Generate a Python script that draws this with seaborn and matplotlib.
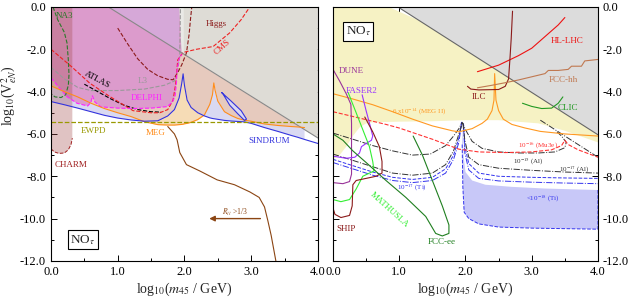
import numpy as np
import matplotlib
matplotlib.use('Agg')
import matplotlib.pyplot as plt
from matplotlib.ticker import MultipleLocator, FormatStrFormatter
import seaborn as sns

# ---------------- left panel (current bounds) ----------------
grid_x = [0, 0.2, 0.4, 0.6, 0.8, 1.0, 1.2, 1.4, 1.6, 1.75, 1.85, 1.92, 1.96, 1.98, 2.0, 2.04,
          2.1, 2.2, 2.3, 2.38, 2.42, 2.44, 2.46, 2.5, 2.6, 2.7, 2.8, 2.9, 3.0, 3.2, 3.4, 3.6,
          3.7, 3.8, 4.0]
sindrum_y = [-4.47, -4.62, -4.78, -4.95, -5.12, -5.25, -5.34, -5.4, -5.38, -5.15, -4.85, -4.3,
             -3.6, -3.16, -3.7, -4.4, -4.75, -5.0, -5.15, -5.24, -5.27, -5.28, -5.29, -5.31,
             -5.36, -5.39, -5.41, -5.43, -5.5, -5.7, -5.88, -6.07, -6.16, -6.26, -6.45]
meg_y = [-3.73, -4.0, -4.25, -4.55, -4.8, -5.0, -5.18, -5.42, -5.56, -5.58, -5.58, -5.56, -5.55,
         -5.54, -5.52, -5.5, -5.45, -5.32, -5.1, -4.6, -4.15, -3.59, -3.95, -4.45, -4.95, -5.13,
         -5.27, -5.35, -5.4, -5.53, -5.6, -5.65, -5.67, -5.7]

sindrum_loop_x = [2.56, 2.7, 2.85, 2.93, 2.9, 2.8, 2.68, 2.58, 2.56]
sindrum_loop_y = [-4.05, -4.45, -4.9, -5.3, -5.36, -5.05, -4.65, -4.12, -4.05]

diagL_x = [0.86, 4.0]
diagL_y = [0.0, -6.19]

delphi_x = [0, 0.12, 0.24, 0.39, 0.55, 0.6, 0.62, 0.66, 0.75, 1.0, 1.23, 1.5, 1.74, 1.82,
            1.86, 1.88, 1.89, 1.92, 1.96]
delphi_y = [-3.35, -3.8, -4.24, -4.55, -4.68, -4.5, -4.2, -4.5, -4.72, -4.78, -4.8, -4.78,
            -4.71, -4.5, -4.2, -3.6, -3.0, -2.45, -2.25]

l3_x = [0, 0.2, 0.4, 0.6, 1.0, 1.4, 1.7, 1.85, 1.9, 1.93, 1.94]
l3_y = [-2.85, -3.4, -3.8, -3.95, -3.95, -3.88, -3.7, -3.5, -3.0, -2.3, 0.0]

cms_x = [0, 0.3, 0.58, 0.88, 1.23, 1.5, 1.63, 1.75, 1.83, 1.87, 1.9, 1.98, 2.18, 2.43, 2.68,
         2.85, 2.98]
cms_y = [-2.0, -2.8, -3.6, -4.23, -4.9, -5.0, -5.0, -4.85, -4.4, -3.6, -2.5, -2.15, -2.0,
         -1.87, -1.22, -0.6, 0.0]

atlas_x = [0.5, 0.7, 0.9, 1.1, 1.3, 1.5, 1.65]
atlas_y = [-3.65, -4.0, -4.35, -4.65, -4.85, -4.95, -4.97]

higgs_x = [1.0, 1.15, 1.3, 1.45, 1.6, 1.75, 1.83, 1.9, 1.96, 2.03, 2.07, 2.09, 2.11]
higgs_y = [-1.0, -1.75, -2.45, -2.95, -3.25, -3.42, -3.44, -3.1, -2.73, -2.17, -1.3, -0.6, 0.0]

na3_x = [0.03, 0.1, 0.2, 0.24, 0.26, 0.27, 0.26, 0.22, 0.15, 0.06, 0.0]
na3_y = [0.0, -0.6, -1.2, -1.7, -2.5, -3.2, -3.7, -4.15, -4.28, -4.25, -4.1]

charm_x = [0, 0, 0.05, 0.12, 0.2, 0.26, 0.3, 0.32, 0.32]
charm_y = [0, -6.7, -6.85, -6.92, -6.9, -6.75, -6.5, -6.2, 0]

ewpd_level = -5.44

rll_x = [1.75, 1.85, 1.89, 1.93, 2.03, 2.23, 2.49, 2.75, 2.98, 3.12, 3.2, 3.25, 3.3, 3.37]
rll_y = [-5.65, -6.0, -6.28, -6.88, -7.45, -7.75, -8.17, -8.4, -8.74, -9.0, -9.45, -10.1, -10.8, -12.0]
rll_arrow_x = [3.18, 2.33]
rll_arrow_y = -10.0

# ---------------- right panel (future sensitivities) ----------------
diagR_x = [0.98, 4.0]
diagR_y = [0.0, -6.04]

yellow_x = [0, 0.84, 1.3, 4.0, 4.0, 3.5, 3.1, 2.5, 2.0, 1.5, 1.0, 0.6, 0.5, 0.4, 0.3, 0.2, 0.1, 0]
yellow_y = [0, 0, -0.64, -6.04, -6.4, -5.85, -5.5, -5.35, -5.35, -5.4, -5.42, -5.45, -5.5, -5.7,
            -6.1, -6.6, -7.0, -7.2]

ti_band_x = [1.95, 1.97, 2.0, 2.1, 2.3, 2.7, 3.2, 4.0, 4.0, 3.0, 2.5, 2.2, 2.05, 1.98, 1.96, 1.95]
ti_band_y = [-5.45, -7.0, -7.8, -8.2, -8.4, -8.5, -8.58, -8.65, -10.5, -10.45, -10.4, -10.25,
             -10.0, -9.7, -8.5, -6.5]

hllhc_x = [2.18, 2.5, 2.8, 3.0, 3.2, 3.4, 3.5]
hllhc_y = [-3.06, -2.75, -2.3, -1.95, -1.4, -0.85, -0.5]

ilc_x = [2.03, 2.08, 2.2, 2.5, 2.6, 2.65, 2.67, 2.69, 2.71]
ilc_y = [-3.75, -3.88, -3.92, -3.9, -3.75, -3.4, -2.5, -1.5, -0.2]

fcchh_x = [2.18, 2.4, 2.6, 2.8, 3.0, 3.2, 3.25, 3.4, 3.55, 3.6, 3.75, 3.8, 4.0]
fcchh_y = [-3.82, -3.7, -3.58, -3.45, -3.3, -3.15, -3.0, -3.0, -2.95, -2.8, -2.8, -2.55, -2.48]

clic_x = [2.86, 3.0, 3.15, 3.3, 3.4, 3.47]
clic_y = [-4.55, -4.7, -4.8, -4.78, -4.55, -4.25]

megII_x = [0, 0.3, 0.6, 0.9, 1.2, 1.5, 1.8, 1.9, 2.1, 2.25, 2.33, 2.4, 2.43, 2.44, 2.46, 2.5,
           2.57, 2.7, 2.9, 3.13, 3.5, 4.0]
megII_y = [-4.1, -4.35, -4.62, -4.95, -5.3, -5.62, -5.85, -5.9, -5.75, -5.5, -5.3, -4.9, -4.4,
           -3.15, -4.4, -4.9, -5.3, -5.55, -5.72, -5.88, -6.0, -6.1]

mu3e_x = [0, 0.4, 0.8, 1.0, 1.5, 1.9, 2.2, 2.6, 3.0, 3.3, 3.45, 3.5, 3.55, 3.7, 4.0]
mu3e_y = [-4.95, -5.25, -5.55, -5.72, -6.25, -6.72, -6.85, -6.88, -6.85, -6.75, -6.55, -6.3,
          -6.5, -6.75, -7.1]

al15_x = [0, 0.3, 0.6, 0.9, 1.2, 1.47, 1.7, 1.82, 1.9, 1.95, 2.0, 2.1, 2.25, 2.5, 2.8, 3.1,
          3.35, 3.5, 3.52, 3.45, 3.38]
al15_y = [-5.96, -6.25, -6.55, -6.8, -7.0, -6.95, -6.55, -6.1, -5.75, -5.45, -5.8, -6.35,
          -6.68, -6.85, -6.9, -6.9, -6.85, -6.65, -6.4, -6.1, -5.9]
al17_x = [0, 0.3, 0.6, 0.9, 1.2, 1.5, 1.7, 1.82, 1.9, 1.96, 1.99, 2.05, 2.2, 2.5, 3.0, 3.5, 4.0]
al17_y = [-6.95, -7.25, -7.55, -7.85, -7.95, -7.85, -7.45, -6.8, -6.0, -5.45, -6.3, -7.1,
          -7.45, -7.62, -7.72, -7.8, -7.85]
al17_edge_x = [3.13, 3.5, 3.8, 4.0]
al17_edge_y = [-5.35, -6.1, -6.7, -7.1]

ti_x = [0, 0.3, 0.6, 0.9, 1.2, 1.5, 1.7, 1.82, 1.9, 1.94, 1.97, 1.99, 2.05, 2.2, 2.5, 3.0, 3.5, 4.0]
ti_a_y = [-7.2, -7.5, -7.8, -8.05, -8.15, -8.05, -7.65, -7.0, -6.2, -5.45, -5.5, -6.6, -7.4,
          -7.85, -8.0, -8.05, -8.08, -8.1]
ti_b_y = [-7.35, -7.65, -7.95, -8.2, -8.3, -8.2, -7.85, -7.2, -6.4, -5.5, -5.6, -6.9, -7.7,
          -8.1, -8.22, -8.28, -8.32, -8.35]

dune_x = [0, 0.1, 0.2, 0.27, 0.28, 0.28, 0.28, 0.25, 0.15, 0]
dune_y = [-2.95, -3.5, -4.1, -4.6, -5.5, -7.0, -7.9, -8.25, -8.35, -8.3]

faser_x = [0.44, 0.5, 0.56, 0.6, 0.58, 0.5, 0.43, 0.4, 0.33, 0.2, 0.1, 0]
faser_y = [-4.15, -4.9, -5.6, -6.1, -6.3, -6.45, -6.6, -6.9, -7.1, -7.15, -7.1, -7.05]

mathusla_x = [0.23, 0.35, 0.45, 0.55, 0.6, 0.62, 0.55, 0.45, 0.35, 0.25, 0.12, 0]
mathusla_y = [-4.05, -5.0, -5.8, -6.6, -7.3, -7.75, -7.85, -8.0, -8.6, -9.1, -9.2, -9.1]

ship_x = [0.48, 0.6, 0.7, 0.74, 0.74, 0.65, 0.5, 0.35, 0.3, 0.29, 0.25, 0.12, 0.03, 0]
ship_y = [-5.2, -5.9, -6.6, -7.3, -7.85, -8.0, -8.1, -8.2, -8.4, -9.4, -9.85, -9.95, -9.8, -9.5]

fccee_x = [0, 0.15, 0.3, 0.5, 0.8, 1.1, 1.4, 1.55, 1.65, 1.75, 1.75, 1.65, 1.5, 1.35, 1.21]
fccee_y = [-6.0, -6.3, -6.8, -7.35, -8.2, -9.0, -9.9, -10.7, -10.82, -10.7, -10.3, -9.4, -8.2,
           -7.0, -6.1]


def line(ax, xs, ys, color, ls='-', lw=0.8):
    sns.lineplot(x=xs, y=ys, ax=ax, color=color, linestyle=ls, linewidth=lw,
                 sort=False, estimator=None)


sns.set_theme(style='ticks')
plt.rcParams['font.family'] = ['Liberation Serif', 'DejaVu Serif']
plt.rcParams['mathtext.fontset'] = 'stix'
plt.rcParams['axes.unicode_minus'] = False

fig = plt.figure(figsize=(6.31, 3.02), dpi=100)
axL = fig.add_axes([0.0808, 0.136, 0.423, 0.841])
axR = fig.add_axes([0.5277, 0.136, 0.42, 0.841])

# ---------- left panel fills ----------
gx = np.array(grid_x)
sy = np.array(sindrum_y)
my = np.array(meg_y)
n = len(my)
top = np.minimum(0, np.interp(gx[:n], diagL_x, diagL_y))
upper_env = np.maximum(sy[:n], my)
axL.fill_between(gx[:n], upper_env, top, where=top > upper_env, color='#e6cabe', lw=0, interpolate=True)
axL.fill_between(gx[:n], my, sy[:n], where=sy[:n] > my, color='#f6dcb6', lw=0, interpolate=True)
axL.fill_between(gx[:n], sy[:n], my, where=my > sy[:n], color='#d9d9f2', lw=0, interpolate=True)
axL.fill(sindrum_loop_x, sindrum_loop_y, color='#d9d9f2', lw=0)
axL.fill(diagL_x + [4.0], diagL_y + [0.0], color='#dedcd6', lw=0)
axL.fill([1.92, 1.92, 1.99, 1.99], [0, -2.09, -2.23, 0], color='#e9e9e6', lw=0)
axL.fill(delphi_x + [1.92, 0], delphi_y + [0, 0], color='#dc9bcc', lw=0)
axL.fill([0.86, 1.92, 1.92], [0, -2.09, 0], color='#d6a8d8', lw=0)
axL.fill(charm_x, charm_y, color='#a34b4b', alpha=0.33, lw=0)

# ---------- left panel lines ----------
line(axL, charm_x[1:-1], charm_y[1:-1], '#a02020', '--', 0.7)
line(axL, na3_x, na3_y, '#2a7a2a', '--')
line(axL, l3_x, l3_y, '#999999', '--')
line(axL, higgs_x, higgs_y, '#8b1a1a', '--')
line(axL, atlas_x, atlas_y, 'black', '--')
line(axL, cms_x, cms_y, '#ee2222', '--')
line(axL, delphi_x, delphi_y, '#ff22ff', '--')
line(axL, diagL_x, diagL_y, '#888888', '-', 0.8)
line(axL, grid_x[:n], meg_y, '#ff8c1a')
line(axL, grid_x, sindrum_y, '#3333dd')
line(axL, sindrum_loop_x, sindrum_loop_y, '#3333dd')
axL.axhline(ewpd_level, color='#999900', ls='--', lw=0.9)
line(axL, rll_x, rll_y, '#8b4513')
axL.annotate('', xy=(rll_arrow_x[1], rll_arrow_y), xytext=(rll_arrow_x[0], rll_arrow_y),
             arrowprops=dict(arrowstyle='-|>', color='#8b4513', lw=1.0, mutation_scale=8))

fs = 6.5
axL.text(0.2, -0.45, 'NA3', color='#2a7a2a', fontsize=fs, ha='center', va='center')
axL.text(2.48, -0.8, 'Higgs', color='#8b1a1a', fontsize=fs, ha='center', va='center')
axL.text(2.56, -1.9, 'CMS', color='#ee2222', fontsize=fs, ha='center', va='center', rotation=42)
axL.text(0.69, -3.44, 'ATLAS', color='black', fontsize=fs, ha='center', va='center', rotation=-28)
axL.text(1.38, -3.5, 'L3', color='#999999', fontsize=fs, ha='center', va='center')
axL.text(1.44, -4.3, 'DELPHI', color='#ff22ff', fontsize=fs, ha='center', va='center')
axL.text(0.63, -5.85, 'EWPD', color='#999900', fontsize=fs, ha='center', va='center')
axL.text(1.57, -5.96, 'MEG', color='#ff8c1a', fontsize=fs, ha='center', va='center')
axL.text(3.27, -6.33, 'SINDRUM', color='#3333dd', fontsize=fs, ha='center', va='center')
axL.text(0.3, -7.47, 'CHARM', color='#a02020', fontsize=fs, ha='center', va='center')
axL.text(2.75, -9.7, '$R_{ll}$ >1/3', color='#8b4513', fontsize=5.5, ha='center', va='center')
axL.text(0.48, -11.0, 'NO$_\\tau$', fontsize=9.5, ha='center', va='center',
         bbox=dict(boxstyle='square,pad=0.2', fc='white', ec='black', lw=0.8))

# ---------- right panel ----------
axR.fill(yellow_x, yellow_y, color='#f6f2c4', lw=0)
axR.fill(diagR_x + [4.0], diagR_y + [0.0], color='#dcdcdc', lw=0)
axR.fill(ti_band_x, ti_band_y, color='#c8c8f8', lw=0)
line(axR, diagR_x, diagR_y, '#666666', '-', 0.8)

line(axR, ti_band_x[7:], ti_band_y[7:], '#3333ee', '--', 0.7)
line(axR, ti_x, ti_a_y, '#3333ee', '--', 0.7)
line(axR, ti_x, ti_b_y, '#3333ee', '-.', 0.7)
line(axR, al15_x, al15_y, '#333333', '-.', 0.7)
line(axR, al17_x, al17_y, '#333333', '-.', 0.7)
line(axR, al17_edge_x, al17_edge_y, '#333333', '-.', 0.7)
line(axR, mu3e_x, mu3e_y, '#ff3333', '--', 0.8)
line(axR, megII_x, megII_y, '#ff9922')
line(axR, hllhc_x, hllhc_y, '#ee1111')
line(axR, ilc_x, ilc_y, '#8b1a1a')
line(axR, fcchh_x, fcchh_y, '#c07850')
line(axR, clic_x, clic_y, '#229922')
line(axR, dune_x, dune_y, '#993399')
line(axR, faser_x, faser_y, '#9933ff')
line(axR, mathusla_x, mathusla_y, '#33ee33')
line(axR, ship_x, ship_y, '#8b1a1a')
line(axR, fccee_x, fccee_y, '#1f7f1f')

axR.text(0.08, -3.05, 'DUNE', color='#993399', fontsize=fs, ha='left', va='center')
axR.text(0.2, -3.95, 'FASER2', color='#9933ff', fontsize=fs, ha='left', va='center')
axR.text(1.3, -4.96, '6 x10$^{-14}$ (MEG II)', color='#ff9922', fontsize=5, ha='center', va='center')
axR.text(2.2, -4.25, 'ILC', color='#8b1a1a', fontsize=fs, ha='center', va='center')
axR.text(3.53, -1.63, 'HL-LHC', color='#ee1111', fontsize=fs, ha='center', va='center')
axR.text(3.47, -3.45, 'FCC-hh', color='#c07850', fontsize=fs, ha='center', va='center')
axR.text(3.55, -4.77, 'CLIC', color='#229922', fontsize=fs, ha='center', va='center')
axR.text(3.1, -6.57, '10$^{-16}$ (Mu3e)', color='#ff3333', fontsize=5, ha='center', va='center')
axR.text(2.95, -7.33, '10$^{-15}$ (Al)', color='#333333', fontsize=5, ha='center', va='center')
axR.text(3.65, -7.7, '10$^{-17}$ (Al)', color='#333333', fontsize=5, ha='center', va='center')
axR.text(3.17, -9.08, '<10$^{-18}$ (Ti)', color='#3333ee', fontsize=5, ha='center', va='center')
axR.text(1.19, -8.55, '10$^{-17}$ (Ti)', color='#3333ee', fontsize=5, ha='center', va='center')
axR.text(0.85, -9.6, 'MATHUSLA', color='#33ee33', fontsize=fs, ha='center', va='center', rotation=-42)
axR.text(0.2, -10.5, 'SHIP', color='#8b1a1a', fontsize=fs, ha='center', va='center')
axR.text(1.64, -11.1, 'FCC-ee', color='#1f7f1f', fontsize=fs, ha='center', va='center')
axR.text(0.38, -1.15, 'NO$_\\tau$', fontsize=9.5, ha='center', va='center',
         bbox=dict(boxstyle='square,pad=0.2', fc='white', ec='black', lw=0.8))

for ax in (axL, axR):
    ax.set_xlim(0, 4)
    ax.set_ylim(-12, 0)
    ax.xaxis.set_major_locator(MultipleLocator(1.0))
    ax.xaxis.set_minor_locator(MultipleLocator(0.5))
    ax.yaxis.set_major_locator(MultipleLocator(2.0))
    ax.yaxis.set_minor_locator(MultipleLocator(1.0))
    ax.xaxis.set_major_formatter(FormatStrFormatter('%.1f'))
    ax.yaxis.set_major_formatter(FormatStrFormatter('%.1f'))
    ax.tick_params(which='both', direction='in', top=True, right=True, left=True, bottom=True,
                   labelsize=9, width=0.7, colors='black')
    ax.tick_params(which='major', length=4)
    ax.tick_params(which='minor', length=2.5)
    for sp in ax.spines.values():
        sp.set_visible(True)
        sp.set_color('black')
        sp.set_linewidth(0.8)
    ax.set_xlabel('log$_{10}$($m_{45}$ / GeV)', fontsize=10, labelpad=2)
    ax.set_ylabel('')

axR.tick_params(labelleft=False, labelright=True)
axL.set_ylabel('log$_{10}$(V$^2_{eN}$)', fontsize=10)
axL.yaxis.set_label_coords(-0.125, 0.65)

fig.savefig('out.png', dpi=100)
